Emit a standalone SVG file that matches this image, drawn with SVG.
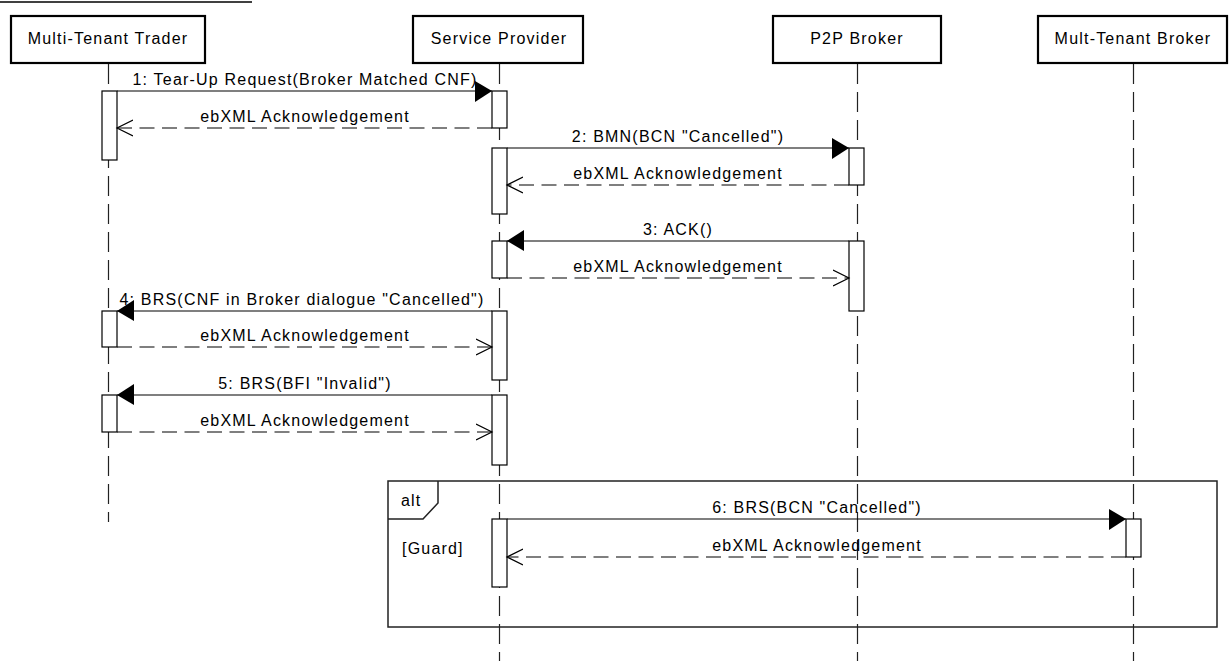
<svg xmlns="http://www.w3.org/2000/svg" width="1229" height="661" viewBox="0 0 1229 661">
<style>
text{font-family:"Liberation Sans",Arial,sans-serif;font-size:16px;letter-spacing:1.2px;fill:#000}
.c{text-anchor:middle}
.hdr{fill:#fff;stroke:#000;stroke-width:2.2}
.life{stroke:#222;stroke-width:1.2;stroke-dasharray:20 8;fill:none}
.act{fill:#fff;stroke:#000;stroke-width:1.2}
.msg{stroke:#000;stroke-width:1.2;fill:none}
.ret{stroke:#000;stroke-width:1.2;fill:none;stroke-dasharray:15 7.5}
.frame{fill:none;stroke:#222;stroke-width:1.5}
</style>
<defs>
<marker id="filled" markerWidth="18" markerHeight="22" refX="17" refY="10" orient="auto" markerUnits="userSpaceOnUse">
<path d="M0,0 L17,10 L0,21 Z" fill="#000"/>
</marker>
<marker id="open" markerWidth="18" markerHeight="20" refX="16" refY="9" orient="auto" markerUnits="userSpaceOnUse">
<path d="M0,1 L16,9 L0,17" fill="none" stroke="#000" stroke-width="1.2"/>
</marker>
</defs>
<rect width="1229" height="661" fill="#fff"/>
<line x1="0" y1="2" x2="252" y2="2" stroke="#000" stroke-width="1.5"/>

<g id="lifelines">
<line class="life" x1="108.5" y1="64" x2="108.5" y2="522"/>
<line class="life" x1="499.5" y1="64" x2="499.5" y2="661"/>
<line class="life" x1="857.5" y1="64" x2="857.5" y2="661"/>
<line class="life" x1="1133.5" y1="64" x2="1133.5" y2="661"/>
</g>

<g id="frame-alt">
<rect class="frame" x="388" y="481" width="829" height="146"/>
<path class="frame" d="M388,519 H423 L438,503 V481"/>
<text x="401" y="506">alt</text>
<text x="402" y="554">[Guard]</text>
</g>

<g id="trader">
<rect class="hdr" x="11" y="16" width="194" height="47"/>
<text class="c" x="108" y="44">Multi-Tenant Trader</text>
<rect class="act" x="102" y="91" width="15" height="69"/>
<rect class="act" x="102" y="311" width="15" height="36"/>
<rect class="act" x="102" y="395" width="15" height="37"/>
</g>

<g id="service-provider">
<rect class="hdr" x="413" y="16" width="170" height="47"/>
<text class="c" x="499" y="44">Service Provider</text>
<rect class="act" x="492" y="91" width="15" height="37"/>
<rect class="act" x="492" y="148" width="15" height="66"/>
<rect class="act" x="492" y="241" width="15" height="37"/>
<rect class="act" x="492" y="311" width="15" height="69"/>
<rect class="act" x="492" y="395" width="15" height="70"/>
<rect class="act" x="492" y="519" width="15" height="68"/>
</g>

<g id="p2p-broker">
<rect class="hdr" x="773" y="16" width="168" height="47"/>
<text class="c" x="857" y="44">P2P Broker</text>
<rect class="act" x="849" y="148" width="15" height="37"/>
<rect class="act" x="849" y="241" width="15" height="70"/>
</g>

<g id="mult-tenant-broker">
<rect class="hdr" x="1038" y="16" width="189" height="47"/>
<text class="c" x="1133" y="44">Mult-Tenant Broker</text>
<rect class="act" x="1126" y="519" width="15" height="38"/>
</g>

<g id="connectors">
<line class="msg" x1="117" y1="91" x2="492" y2="91" marker-end="url(#filled)"/>
<text class="c" x="305" y="85">1: Tear-Up Request(Broker Matched CNF)</text>
<line class="ret" x1="492" y1="128" x2="117" y2="128" marker-end="url(#open)"/>
<text class="c" x="305" y="122">ebXML Acknowledgement</text>

<line class="msg" x1="507" y1="148" x2="849" y2="148" marker-end="url(#filled)"/>
<text class="c" x="678" y="142">2: BMN(BCN "Cancelled")</text>
<line class="ret" x1="849" y1="185" x2="507" y2="185" marker-end="url(#open)"/>
<text class="c" x="678" y="179">ebXML Acknowledgement</text>

<line class="msg" x1="849" y1="241" x2="507" y2="241" marker-end="url(#filled)"/>
<text class="c" x="678" y="235">3: ACK()</text>
<line class="ret" x1="507" y1="278" x2="849" y2="278" marker-end="url(#open)"/>
<text class="c" x="678" y="272">ebXML Acknowledgement</text>

<line class="msg" x1="492" y1="311" x2="117" y2="311" marker-end="url(#filled)"/>
<text class="c" x="302" y="305">4: BRS(CNF in Broker dialogue "Cancelled")</text>
<line class="ret" x1="117" y1="347" x2="492" y2="347" marker-end="url(#open)"/>
<text class="c" x="305" y="341">ebXML Acknowledgement</text>

<line class="msg" x1="492" y1="395" x2="117" y2="395" marker-end="url(#filled)"/>
<text class="c" x="305" y="389">5: BRS(BFI "Invalid")</text>
<line class="ret" x1="117" y1="432" x2="492" y2="432" marker-end="url(#open)"/>
<text class="c" x="305" y="426">ebXML Acknowledgement</text>

<line class="msg" x1="507" y1="519" x2="1126" y2="519" marker-end="url(#filled)"/>
<text class="c" x="817" y="513">6: BRS(BCN "Cancelled")</text>
<line class="ret" x1="1126" y1="557" x2="507" y2="557" marker-end="url(#open)"/>
<text class="c" x="817" y="551">ebXML Acknowledgement</text>
</g>
</svg>
